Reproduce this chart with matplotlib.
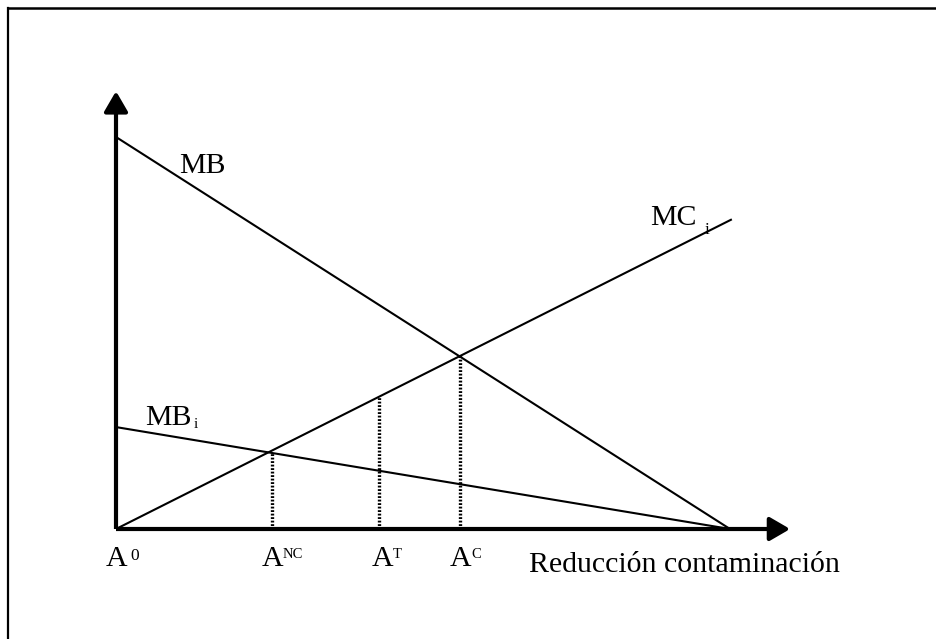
import matplotlib
matplotlib.use("Agg")
import matplotlib.pyplot as plt
from matplotlib.lines import Line2D

plt.rcParams['font.family'] = ['Liberation Serif', 'DejaVu Serif']

# ---- data (model units) ----
x_end = 10.0                 # where MB and MB_i reach the horizontal axis
mb_y = [10.0, 0.0]           # MB: intercept -> 0
mbi_y = [2.6, 0.0]           # MB_i: intercept -> 0
mci_x = [0.0, 10.03]         # MC_i
mci_y = [0.0, 7.9]
a_names = ["NC", "T", "C"]   # A^NC, A^T, A^C
a_x = [2.54, 4.28, 5.60]
a_top = [1.96, 3.37, 4.44]
x_arrow = 10.98
y_arrow = 11.17

# ---- layout: map reference pixels to data units ----
W, H = 937, 639
OX, OY = 116, 529            # origin in pixels
SX, SY = 61.4, 39.2          # pixels per unit

def P(px, py):
    return ((px - OX) / SX, (OY - py) / SY)

fig = plt.figure(figsize=(W / 100, H / 100), dpi=100)
ax = fig.add_axes([0, 0, 1, 1])
ax.set_xlim(P(0, 0)[0], P(W, 0)[0])
ax.set_ylim(P(0, H)[1], P(0, 0)[1])
ax.axis('off')

# frame (cropped: only top and left visible)
fig.add_artist(Line2D([8.5 / W, 1.0], [1 - 8 / H, 1 - 8 / H], color='black', lw=1.8,
                      transform=fig.transFigure, solid_capstyle='projecting'))
fig.add_artist(Line2D([8.5 / W, 8.5 / W], [1 - 8 / H, 0.0], color='black', lw=1.6,
                      transform=fig.transFigure))

# axes with arrows
for tip in [(x_arrow, 0.0), (0.0, y_arrow)]:
    ax.annotate('', xy=tip, xytext=(0, 0), xycoords='data',
                arrowprops=dict(arrowstyle='-|>,head_length=0.62,head_width=0.36',
                                lw=3.0, color='black', shrinkA=0, shrinkB=0,
                                mutation_scale=20, capstyle='butt'))

# curves
ax.plot([0, x_end], mb_y, color='black', lw=1.5, solid_capstyle='butt')
ax.plot([0, x_end], mbi_y, color='black', lw=1.5, solid_capstyle='butt')
ax.plot(mci_x, mci_y, color='black', lw=1.5, solid_capstyle='butt')

# dotted verticals
for xv, yt in zip(a_x, a_top):
    ax.plot([xv, xv], [0, yt], color='black', lw=2.4, linestyle=(0, (0.55, 0.5)),
            dash_capstyle='butt')

fs = 21.5

def txt(px, py, s, size):
    x, y = P(px, py)
    ax.text(x, y, s, fontsize=size, ha='left', va='baseline', color='black')

# curve labels
txt(179, 173, "MB", fs)
txt(145, 425, "MB", fs)
txt(194, 428, "i", 11)
txt(650, 225, "MC", fs)
txt(705, 234, "i", 12.5)

# axis labels
txt(106, 566, "A", fs)
txt(130, 560, "0", 12.5)
a_label_px = [262, 372, 450]
for name, lx in zip(a_names, a_label_px):
    txt(lx, 566, "A", fs)
    txt(lx + 21, 558, name, 10.5)
txt(529, 572, "Reducción contaminación", fs)

fig.savefig("out.png", dpi=100)
